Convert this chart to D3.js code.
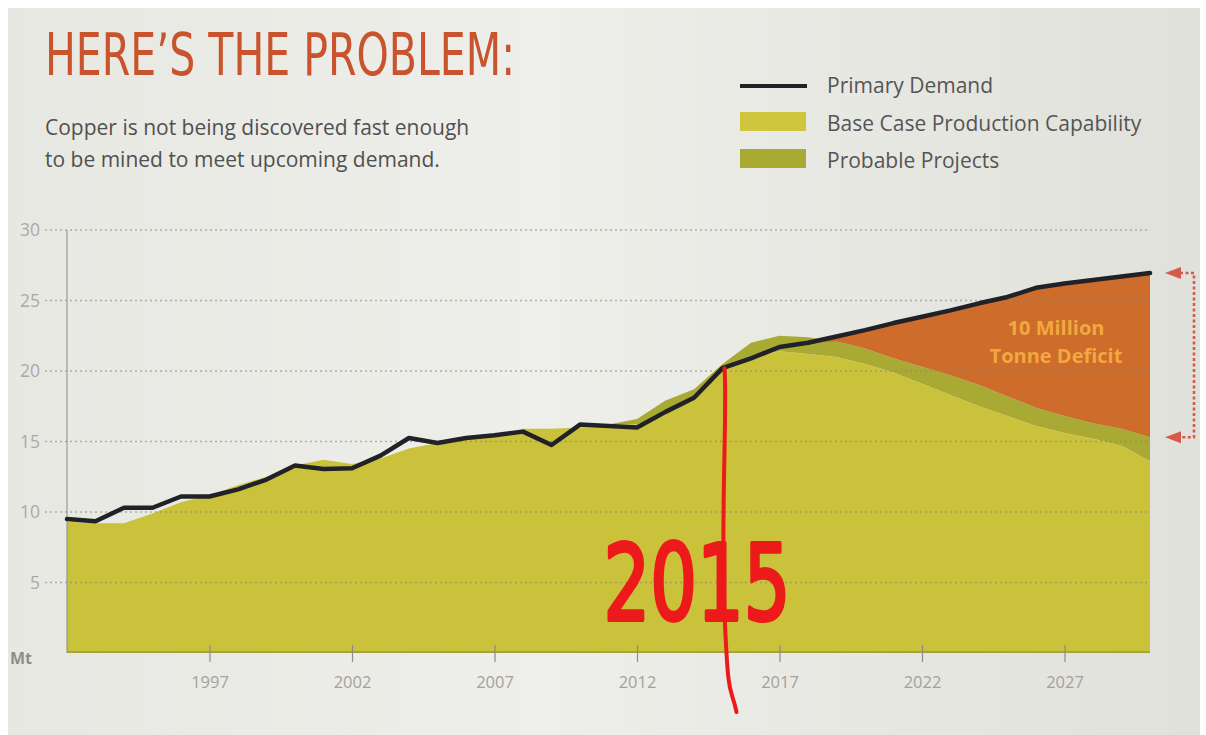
<!DOCTYPE html>
<html>
<head>
<meta charset="utf-8">
<script src="https://cdn.jsdelivr.net/npm/d3@7/dist/d3.min.js"></script>
<style>
  html, body { margin: 0; padding: 0; background: #ffffff; }
  svg { display: block; }
</style>
</head>
<body>
<script>
// ---- Data (million tonnes of copper) ----
const years = [1992,1993,1994,1995,1996,1997,1998,1999,2000,2001,2002,2003,2004,2005,2006,2007,2008,2009,2010,2011,
               2012,2013,2014,2015,2016,2017,2018,2019,2020,2021,2022,2023,2024,2025,2026,2027,2028,2029,2030];
const primaryDemand = [9.5,9.35,10.3,10.3,11.1,11.1,11.6,12.3,13.3,13.05,13.1,14.0,15.25,14.9,15.25,15.45,15.7,14.75,16.2,16.1,
                       16.0,17.1,18.1,20.2,20.9,21.7,22.0,22.45,22.9,23.4,23.85,24.3,24.8,25.25,25.9,26.2,26.45,26.7,26.95];
const baseCase = [9.3,9.2,9.2,9.9,10.7,11.2,11.9,12.5,13.3,13.7,13.4,13.8,14.5,14.9,15.2,15.4,15.9,15.9,16.0,16.2,
                  16.2,17.0,18.0,20.1,21.0,21.4,21.2,21.0,20.5,19.9,19.1,18.3,17.5,16.8,16.1,15.6,15.2,14.7,13.6];
const probableProjects = [0,0,0,0,0,0,0,0,0,0,0,0,0,0,0,0,0,0,0,0,
                          0.4,0.9,0.7,0.4,1.0,1.1,1.2,1.1,1.1,1.0,1.2,1.4,1.5,1.4,1.3,1.2,1.1,1.2,1.7];
const yTicks = [5,10,15,20,25,30];
const xTickYears = [1997,2002,2007,2012,2017,2022,2027];
const legendLabels = ["Primary Demand","Base Case Production Capability","Probable Projects"];
const deficitLabel = ["10 Million","Tonne Deficit"];
const markedYear = 2015;

// ---- Layout ----
const W = 1206, H = 735;
const colors = {
  bgA: "#e8e8e3", bgB: "#eeeeea", bgC: "#e1e1db",
  base: "#cbc23c", probable: "#a8aa33", deficit: "#cd6c2b",
  demand: "#202228", title: "#c9532d", text: "#505050",
  axis: "#8c8c86", tickText: "#a2a29a", grid: "#8a8670",
  deficitText: "#f3a741", bracket: "#d45a4c", marker: "#ec1a1a"
};
const bodyFont = "'Open Sans', 'Noto Sans', sans-serif";

const svg = d3.select("body").append("svg").attr("width", W).attr("height", H);
const defs = svg.append("defs");
const grad = defs.append("linearGradient").attr("id", "bgGrad")
  .attr("x1", "0%").attr("x2", "100%").attr("y1", "0%").attr("y2", "0%");
grad.append("stop").attr("offset", "0%").attr("stop-color", colors.bgA);
grad.append("stop").attr("offset", "45%").attr("stop-color", colors.bgB);
grad.append("stop").attr("offset", "100%").attr("stop-color", colors.bgC);

svg.append("rect").attr("x", 8).attr("y", 8).attr("width", W - 14).attr("height", H - 8)
  .attr("fill", "url(#bgGrad)");

const x = d3.scaleLinear().domain([years[0], years[years.length - 1]]).range([67, 1150]);
const y = d3.scaleLinear().domain([0, 30]).range([653, 230]);

// ---- Stacked production areas ----
const rows = years.map((yr, i) => ({ year: yr, base: baseCase[i], probable: probableProjects[i], demand: primaryDemand[i] }));
const stacked = d3.stack().keys(["base", "probable"])(rows);

const area = d3.area()
  .x(d => x(d.data.year))
  .y0(d => y(d[0]))
  .y1(d => y(d[1]));

// probable drawn first so that base sits cleanly on top where they meet
svg.append("path").datum(stacked[1]).attr("d", area).attr("fill", colors.probable);
svg.append("path").datum(stacked[0]).attr("d", area).attr("fill", colors.base);

// ---- Deficit: demand above total supply ----
const deficitArea = d3.area()
  .x(d => x(d.year))
  .y0(d => y(Math.min(d.base + d.probable, d.demand)))
  .y1(d => y(d.demand));
svg.append("path").datum(rows.filter(d => d.year >= 2018)).attr("d", deficitArea).attr("fill", colors.deficit);

// ---- Grid lines (dotted) ----
svg.append("g").selectAll("line").data(yTicks).join("line")
  .attr("x1", 45).attr("x2", x(years[years.length - 1]))
  .attr("y1", d => y(d)).attr("y2", d => y(d))
  .attr("stroke", colors.grid).attr("stroke-width", 1.6)
  .attr("stroke-dasharray", "2 3").attr("opacity", 0.6);

// y labels
svg.append("g").selectAll("text").data(yTicks).join("text")
  .attr("x", 40).attr("y", d => y(d)).attr("dy", "0.35em")
  .attr("text-anchor", "end")
  .attr("font-family", bodyFont).attr("font-size", 17.5)
  .attr("fill", "#aaaaa2").text(d => d);

svg.append("text").attr("x", 10).attr("y", 664)
  .attr("font-family", bodyFont).attr("font-size", 16).attr("font-weight", "bold")
  .attr("fill", "#8e8e88").text("Mt");

// y axis line
svg.append("line").attr("x1", 67).attr("x2", 67).attr("y1", y(30)).attr("y2", y(0))
  .attr("stroke", colors.axis).attr("stroke-width", 1);

// bottom edge of the area
svg.append("line").attr("x1", x(years[0])).attr("x2", x(years[years.length - 1]))
  .attr("y1", y(0) - 1).attr("y2", y(0) - 1)
  .attr("stroke", "#a9a13c").attr("stroke-width", 2);

// x axis
const xAxis = d3.axisBottom(x).tickValues(xTickYears).tickFormat(d3.format("d")).tickSize(9).tickPadding(19);
const gx = svg.append("g").attr("transform", `translate(0,${y(0) - 8})`).call(xAxis);
gx.select(".domain").remove();
gx.selectAll(".tick line").attr("stroke", colors.axis).attr("stroke-width", 1.2).attr("y2", 17);
gx.selectAll(".tick text").attr("font-family", bodyFont).attr("font-size", 16.5)
  .attr("fill", colors.tickText).attr("dy", "0.9em");

// ---- Demand line ----
const line = d3.line().x(d => x(d.year)).y(d => y(d.demand));
svg.append("path").datum(rows).attr("d", line)
  .attr("fill", "none").attr("stroke", colors.demand).attr("stroke-width", 4.5)
  .attr("stroke-linejoin", "round").attr("stroke-linecap", "round");

// ---- Deficit label ----
const last = rows[rows.length - 1];
svg.append("g").selectAll("text").data(deficitLabel).join("text")
  .attr("x", 1056).attr("y", (d, i) => 335 + i * 28)
  .attr("text-anchor", "middle")
  .attr("font-family", bodyFont).attr("font-size", 20).attr("font-weight", "bold")
  .attr("fill", colors.deficitText).text(d => d);

// ---- Deficit bracket with arrows ----
const bx0 = x(last.year) + 30, bx1 = x(last.year) + 44;
const byTop = y(last.demand), byBot = y(last.base + last.probable);
svg.append("path")
  .attr("d", `M${bx0},${byTop}H${bx1}V${byBot}H${bx0}`)
  .attr("fill", "none").attr("stroke", colors.bracket).attr("stroke-width", 2.6)
  .attr("stroke-dasharray", "3 2.5");
[byTop, byBot].forEach(by => {
  svg.append("path")
    .attr("d", `M${x(last.year) + 15},${by}L${x(last.year) + 31},${by - 6}L${x(last.year) + 31},${by + 6}Z`)
    .attr("fill", colors.bracket);
});

// ---- Hand-drawn 2015 marker ----
const mi = years.indexOf(markedYear);
const mx = x(markedYear), myTop = y(primaryDemand[mi]), myBot = y(0) + 59;
svg.append("path")
  .attr("d", `M${mx + 2},${myTop} C${mx + 5},${myTop + 40} ${mx - 2},${myTop + 150} ${mx + 2},${y(0) - 40}
              S${mx + 8},${y(0) + 30} ${mx + 14},${myBot}`)
  .attr("fill", "none").attr("stroke", colors.marker).attr("stroke-width", 4).attr("stroke-linecap", "round");

svg.append("text")
  .attr("x", mx - 119).attr("y", y(0) - 33)
  .attr("font-family", "'DejaVu Sans', sans-serif").attr("font-size", 106)
  .attr("textLength", 187).attr("lengthAdjust", "spacingAndGlyphs")
  .attr("fill", colors.marker).attr("stroke", colors.marker).attr("stroke-width", 4)
  .attr("stroke-linejoin", "round")
  .text(String(markedYear));

// ---- Title and subtitle ----
svg.append("text").attr("x", 45).attr("y", 75)
  .attr("font-family", "'Liberation Sans Narrow', 'DejaVu Sans Condensed', sans-serif")
  .attr("font-size", 58).attr("textLength", 470).attr("lengthAdjust", "spacingAndGlyphs")
  .attr("fill", colors.title).text("HERE\u2019S THE PROBLEM:");

svg.append("g").selectAll("text")
  .data(["Copper is not being discovered fast enough", "to be mined to meet upcoming demand."]).join("text")
  .attr("x", 45).attr("y", (d, i) => 135 + i * 32)
  .attr("font-family", bodyFont).attr("font-size", 21)
  .attr("fill", colors.text).text(d => d);

// ---- Legend ----
const lg = svg.append("g");
lg.append("line").attr("x1", 740).attr("x2", 807).attr("y1", 86).attr("y2", 86)
  .attr("stroke", colors.demand).attr("stroke-width", 4);
lg.append("rect").attr("x", 740).attr("y", 112).attr("width", 66).attr("height", 19).attr("fill", "#cfc63e");
lg.append("rect").attr("x", 740).attr("y", 149).attr("width", 66).attr("height", 19).attr("fill", colors.probable);
lg.selectAll("text").data(legendLabels).join("text")
  .attr("x", 827).attr("y", (d, i) => 93 + i * 37.5)
  .attr("font-family", bodyFont).attr("font-size", 21)
  .attr("fill", "#555555").text(d => d);
</script>
</body>
</html>
